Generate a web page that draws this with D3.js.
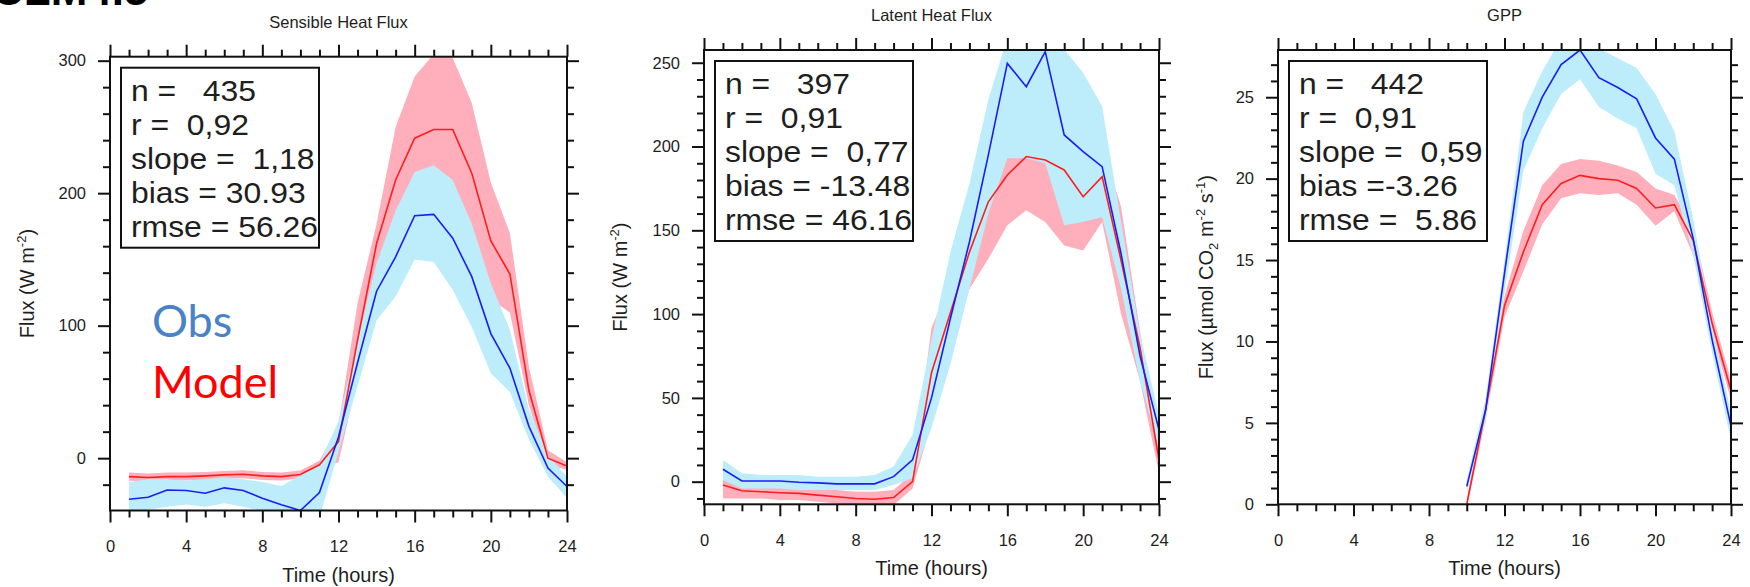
<!DOCTYPE html>
<html>
<head>
<meta charset="utf-8" />
<title>Diurnal fluxes: Obs vs Model</title>
<script src="https://d3js.org/d3.v7.min.js"></script>
<style>
  body { margin: 0; background: #fff; }
  svg text { font-family: "Liberation Sans", Arial, sans-serif; fill: #1e1e1e; }
</style>
</head>
<body>
<svg id="chart" width="1750" height="587"></svg>
<script>

// ---- data ----
var hours = [1,2,3,4,5,6,7,8,9,10,11,12,13,14,15,16,17,18,19,20,21,22,23,24];
var gppHours = [10,11,12,13,14,15,16,17,18,19,20,21,22,23,24];
var xTicks = [0, 4, 8, 12, 16, 20, 24];

// sensible heat flux
var shObs   = [-31,-29.5,-24,-24.4,-26.5,-22.4,-24.4,-30.2,-35.2,-39.5,-26,16,72,126,152,183,184,166,137,94,68,24,-7.5,-21.4];
var shObsLo = [-41,-39,-36.6,-35,-36.6,-34,-36.6,-40,-46,-50,-45,5,54,104,122,150,148,127,99,64,50,14,-14,-30];
var shObsHi = [-18,-16,-16,-17,-16,-14.6,-16,-18,-21,-13,-4,28,89,147,187,216,221,210,177,132,97,37,2,-14];
var shMod   = [-13.9,-14.6,-13.9,-13.9,-13.4,-12.6,-12.1,-13.4,-13.9,-12.3,-5,12.5,89,162,210,241.5,248,248,215,164,139,51,0,-6];
var shModLo = [-17,-17.6,-16.9,-16.9,-16.4,-15.6,-15.1,-16.4,-16.9,-15.3,-8,-3,60,130,175,195,200,190,165,120,110,40,-5,-9];
var shModHi = [-10.9,-11.6,-10.9,-10.9,-10.4,-9.6,-9.1,-10.4,-10.9,-9.3,-2,25,117,177,250,288,305,302,268,208,170,69,6,-3];

// latent heat flux
var leObs   = [7.4,0.4,0.4,0.4,-0.3,-0.7,-1.3,-1.3,-1.3,3,13,50,97.5,143,195,249.6,235.7,256.6,206.9,197,188,136,75,31];
var leObsLo = [1,-4,-4,-4,-5,-5,-5,-5,-5,-2,2,32,70,115,160,193,193,190,153,155,158,115,60,20];
var leObsHi = [13,5,4,4,4,3,3,3,4,9,28,85,137,178,228,265,270,270,258,244,224,155,88,40];
var leMod   = [-2,-5.4,-6,-6.6,-7,-8,-9,-10,-10.5,-9.5,0,65,101,137,167,183,194,192,186,170,182,132,80,13];
var leModLo = [-10,-10,-10,-11,-11,-12,-13,-14,-15,-14,-4,35,86,115,133,153,162,155,141,138,155,100,60,5];
var leModHi = [2,-1,-2,-2,-3,-4,-5,-6,-6,-5,5,92,118,150,175,195,197,197,200,200,200,164,90,25];

// GPP
var gppObs   = [1.1,5.8,14.2,22.3,25.0,27.0,27.9,26.2,25.6,24.9,22.5,21.2,16.3,10.1,4.8];
var gppObsLo = [0.7,5.0,13.0,20.5,23.1,25.2,26.1,24.4,23.7,23.1,20.3,19.6,15.3,9.3,3.9];
var gppObsHi = [1.5,6.5,15.0,24.1,26.6,28.6,29.5,28.0,27.4,26.8,25.2,22.9,17.5,11.0,5.6];
var gppMod   = [0.0,5.8,12.2,15.5,18.4,19.7,20.2,20.0,19.9,19.4,18.2,18.4,16.2,11.1,7.0];
var gppModLo = [-0.2,5.2,11.5,14.3,17.2,18.8,19.1,19.0,19.1,18.4,17.1,18.0,15.3,10.5,6.4];
var gppModHi = [0.3,6.4,12.8,16.8,19.6,20.9,21.2,21.1,20.8,20.4,19.4,19.0,17.0,11.8,7.6];

var titles = ["Sensible Heat Flux", "Latent Heat Flux", "GPP"];
var yTicksSH = [0, 100, 200, 300];
var yTicksLE = [0, 50, 100, 150, 200, 250];
var yTicksGPP = [0, 5, 10, 15, 20, 25];

var statsSH  = ["n =   435", "r =  0,92", "slope =  1,18", "bias = 30.93", "rmse = 56.26"];
var statsLE  = ["n =   397", "r =  0,91", "slope =  0,77", "bias = -13.48", "rmse = 46.16"];
var statsGPP = ["n =   442", "r =  0,91", "slope =  0,59", "bias =-3.26", "rmse =  5.86"];

var legendLabels = ["Obs", "Model"];

// ---- layout ----
var panels = [
  {x: hours, obs: shObs, obsLo: shObsLo, obsHi: shObsHi, mod: shMod, modLo: shModLo, modHi: shModHi,
   left: 110, right: 567, top: 56.7, bottom: 510.5, yDom: [-39.5, 303], yTicks: yTicksSH, minorStep: 20,
   stats: statsSH, title: titles[0], unit: "W", labelOff: 83},
  {x: hours, obs: leObs, obsLo: leObsLo, obsHi: leObsHi, mod: leMod, modLo: leModLo, modHi: leModHi,
   left: 704, right: 1159, top: 50, bottom: 504.3, yDom: [-13.5, 257.6], yTicks: yTicksLE, minorStep: 10,
   stats: statsLE, title: titles[1], unit: "W", labelOff: 84},
  {x: gppHours, obs: gppObs, obsLo: gppObsLo, obsHi: gppObsHi, mod: gppMod, modLo: gppModLo, modHi: gppModHi,
   left: 1278, right: 1731, top: 50, bottom: 504.3, yDom: [0, 27.9], yTicks: yTicksGPP, minorStep: 1,
   stats: statsGPP, title: titles[2], unit: "CO2", labelOff: 72}
];

var svg = d3.select("#chart");

// cut-off heading at the very top-left (only its lower edge is on the page)
svg.append("text")
   .attr("x", -8).attr("y", 5)
   .style("font-size", "44px").style("font-weight", "bold").style("fill", "#000")
   .text("CLM4.5");

panels.forEach(function(p, i) {

    var x = d3.scaleLinear().domain([0, 24]).range([p.left, p.right]);
    var y = d3.scaleLinear().domain(p.yDom).range([p.bottom, p.top]);
    var g = svg.append("g");

    g.append("clipPath").attr("id", "clip" + i)
     .append("rect")
       .attr("x", p.left).attr("y", p.top)
       .attr("width", p.right - p.left).attr("height", p.bottom - p.top);

    var plot = g.append("g").attr("clip-path", "url(#clip" + i + ")");

    var area = function(lo, hi) {
        return d3.area()
                 .x(function(d, k) { return x(p.x[k]); })
                 .y0(function(d, k) { return y(lo[k]); })
                 .y1(function(d, k) { return y(hi[k]); })(p.x);
    };
    var line = function(vals) {
        return d3.line()
                 .x(function(d, k) { return x(p.x[k]); })
                 .y(function(d) { return y(d); })(vals);
    };

    plot.append("path").attr("d", area(p.modLo, p.modHi)).attr("fill", "#ffafbb");
    plot.append("path").attr("d", area(p.obsLo, p.obsHi)).attr("fill", "#bdedfb");
    plot.append("path").attr("d", line(p.mod)).attr("fill", "none")
        .attr("stroke", "#ff1e1e").attr("stroke-width", 1.6);
    plot.append("path").attr("d", line(p.obs)).attr("fill", "none")
        .attr("stroke", "#1c1cf5").attr("stroke-width", 1.6);

    // minor + major ticks on all four sides
    var minorY = d3.range(Math.ceil(p.yDom[0] / p.minorStep) * p.minorStep, p.yDom[1], p.minorStep)
                   .filter(function(v) { return p.yTicks.indexOf(v) < 0; });
    var minorX = d3.range(0, 25).filter(function(v) { return xTicks.indexOf(v) < 0; });

    function ticks(axis, tr, vals, size, labels) {
        var a = axis.tickValues(vals).tickSize(size).tickSizeOuter(0);
        if (!labels) a.tickFormat("");
        var ag = g.append("g").attr("transform", tr).call(a);
        ag.select(".domain").remove();
        ag.selectAll("line").attr("stroke", "#111").attr("stroke-width", 2);
        return ag;
    }

    ticks(d3.axisBottom(x), "translate(0," + p.bottom + ")", minorX, 7, false);
    ticks(d3.axisTop(x), "translate(0," + p.top + ")", minorX, 7, false);
    ticks(d3.axisLeft(y), "translate(" + p.left + ",0)", minorY, 7, false);
    ticks(d3.axisRight(y), "translate(" + p.right + ",0)", minorY, 7, false);
    ticks(d3.axisTop(x), "translate(0," + p.top + ")", xTicks, 12, false);
    ticks(d3.axisRight(y), "translate(" + p.right + ",0)", p.yTicks, 12, false);

    var xb = ticks(d3.axisBottom(x).tickPadding(18), "translate(0," + p.bottom + ")", xTicks, 12, true);
    xb.selectAll("text").style("font-size", "16.5px").attr("fill", "#2a2a2a");
    var yl = ticks(d3.axisLeft(y).tickPadding(12), "translate(" + p.left + ",0)", p.yTicks, 12, true);
    yl.selectAll("text").style("font-size", "16.5px").attr("fill", "#2a2a2a");

    // frame
    g.append("rect")
     .attr("x", p.left).attr("y", p.top)
     .attr("width", p.right - p.left).attr("height", p.bottom - p.top)
     .attr("fill", "none").attr("stroke", "#111").attr("stroke-width", 2);

    // titles
    g.append("text")
     .attr("x", (p.left + p.right) / 2).attr("y", p.top - 29)
     .attr("text-anchor", "middle").style("font-size", "16.5px")
     .text(p.title);

    g.append("text")
     .attr("x", (p.left + p.right) / 2).attr("y", p.bottom + 71)
     .attr("text-anchor", "middle").style("font-size", "20px")
     .text("Time (hours)");

    var cy = (p.top + p.bottom) / 2, cx = p.left - p.labelOff;
    var yt = g.append("text")
              .attr("transform", "translate(" + (cx + 7) + "," + cy + ") rotate(-90)")
              .attr("text-anchor", "middle").style("font-size", "20px");
    if (p.unit === "W") {
        yt.append("tspan").text("Flux (W m");
        yt.append("tspan").attr("dy", -8).style("font-size", "13px").text("-2");
        yt.append("tspan").attr("dy", 8).text(")");
    } else {
        yt.append("tspan").text("Flux (\u00b5mol CO");
        yt.append("tspan").attr("dy", 5).style("font-size", "13px").text("2");
        yt.append("tspan").attr("dy", -5).text(" m");
        yt.append("tspan").attr("dy", -8).style("font-size", "13px").text("-2");
        yt.append("tspan").attr("dy", 8).text(" s");
        yt.append("tspan").attr("dy", -8).style("font-size", "13px").text("-1");
        yt.append("tspan").attr("dy", 8).text(")");
    }

    // stats box
    var bx = p.left + 11, by = p.top + 11;
    g.append("rect")
     .attr("x", bx).attr("y", by).attr("width", 198).attr("height", 180)
     .attr("fill", "#fff").attr("stroke", "#111").attr("stroke-width", 2);
    g.selectAll(".stat").data(p.stats).enter().append("text")
     .attr("transform", function(d, k) {
         return "translate(" + (bx + 10) + "," + (by + 33 + k * 34) + ") scale(1.1,1)";
     })
     .style("font-size", "29px").style("white-space", "pre")
     .attr("xml:space", "preserve")
     .text(function(d) { return d; });
});

// Obs / Model legend in the first panel
var legendColors = ["#4a82c8", "#ff0000"];
svg.selectAll(".legend").data(legendLabels).enter().append("text")
   .attr("x", 152)
   .attr("y", function(d, k) { return 337 + k * 61; })
   .style("font-family", "Lato, 'Open Sans', sans-serif")
   .style("font-size", "45px")
   .style("fill", function(d, k) { return legendColors[k]; })
   .text(function(d) { return d; });

</script>
</body>
</html>
